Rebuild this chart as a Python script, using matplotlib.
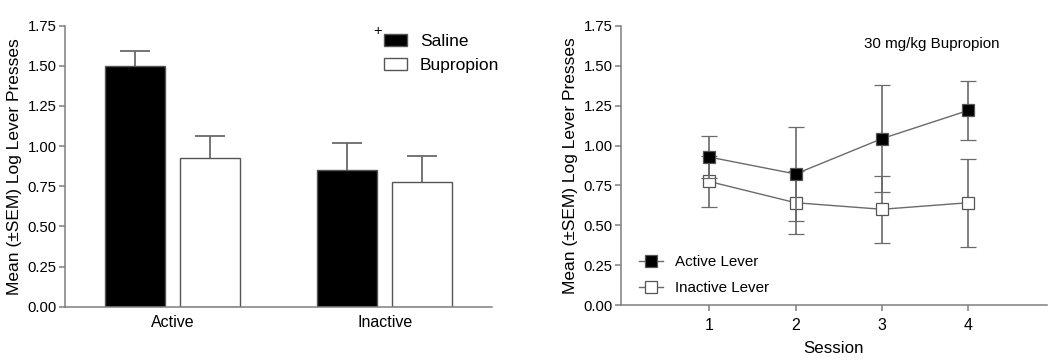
import matplotlib
matplotlib.use("Agg")
import matplotlib.pyplot as plt
import numpy as np
from matplotlib.ticker import FormatStrFormatter
from matplotlib.lines import Line2D

plt.rcParams['font.family'] = ['Liberation Sans', 'DejaVu Sans']

# ---- data: left panel ----
lever_categories = ["Active", "Inactive"]
saline_means = [1.50, 0.85]
saline_sem = [0.09, 0.17]
bupropion_means = [0.925, 0.775]
bupropion_sem = [0.135, 0.162]

# ---- data: right panel ----
sessions = [1, 2, 3, 4]
active_means = [0.928, 0.822, 1.043, 1.220]
active_sem = [0.133, 0.293, 0.334, 0.186]
inactive_means = [0.775, 0.642, 0.601, 0.642]
inactive_sem = [0.160, 0.198, 0.211, 0.275]

y_ticks = [0.00, 0.25, 0.50, 0.75, 1.00, 1.25, 1.50, 1.75]

axis_color = '#7f7f7f'
edge_color = '#555555'
err_color = '#6a6a6a'
ylabel = "Mean (\u00b1SEM) Log Lever Presses"

fig = plt.figure(figsize=(10.5, 3.62), dpi=100)
W, H = 1050, 362

def add_axes_px(x0, x1, ytop, ybot):
    return fig.add_axes([x0 / W, (H - ybot) / H, (x1 - x0) / W, (ybot - ytop) / H])

def style_axes(ax):
    for s in ['top', 'right']:
        ax.spines[s].set_visible(False)
    for s in ['left', 'bottom']:
        ax.spines[s].set_color(axis_color)
        ax.spines[s].set_linewidth(1.1)
    ax.tick_params(colors=axis_color, width=1.1, length=4, labelcolor='black')
    ax.set_ylim(0, 1.75)
    ax.set_yticks(y_ticks)
    ax.yaxis.set_major_formatter(FormatStrFormatter('%.2f'))
    ax.tick_params(axis='y', labelsize=10.7, pad=2)

# ---------------- left panel ----------------
ax1 = add_axes_px(65, 492, 25.7, 306.7)
style_axes(ax1)
x = np.arange(len(lever_categories))
bw = 0.285
off = 0.177
ekw = dict(ecolor=err_color, elinewidth=1.3, capsize=10.5, capthick=1.3)
b1 = ax1.bar(x - off, saline_means, bw, color='black', edgecolor=edge_color, linewidth=1.0,
             yerr=[np.zeros(len(x)), saline_sem], error_kw=ekw, label='Saline', zorder=2)
b2 = ax1.bar(x + off, bupropion_means, bw, color='white', edgecolor=edge_color, linewidth=1.0,
             yerr=[np.zeros(len(x)), bupropion_sem], error_kw=ekw, label='Bupropion', zorder=2)
for bc in (b1, b2):
    caps = bc.errorbar.lines[1]
    if len(caps) > 0:
        caps[0].set_visible(False)  # hide lower cap (upper-only SEM)
ax1.set_xlim(-0.508, 1.506)
ax1.set_xticks(x)
ax1.set_xticklabels(lever_categories)
ax1.tick_params(axis='x', length=0, labelsize=11.5, pad=6)
ax1.set_ylabel(ylabel, fontsize=12.5, labelpad=4)
ax1.legend(loc='upper left', bbox_to_anchor=((384 - 65) / 427, (306.7 - 34) / 281),
           frameon=False, fontsize=12.5, handlelength=1.32, handleheight=0.69,
           handletextpad=0.75, labelspacing=0.52, borderpad=0, borderaxespad=0)
fig.text(378 / W, (H - 31) / H, '+', fontsize=10.5, ha='center', va='center')

# ---------------- right panel ----------------
ax2 = add_axes_px(621, 1047, 25.7, 305.3)
style_axes(ax2)
mk = dict(marker='s', markersize=8.0, markeredgecolor=edge_color, markeredgewidth=0.9)
ax2.errorbar(sessions, inactive_means, yerr=inactive_sem, color=err_color, lw=1.0,
             elinewidth=1.2, capsize=5.5, capthick=1.2, markerfacecolor='white',
             label='Inactive Lever', zorder=3, **mk)
ax2.errorbar(sessions, active_means, yerr=active_sem, color=err_color, lw=1.0,
             elinewidth=1.2, capsize=5.5, capthick=1.2, markerfacecolor='black',
             label='Active Lever', zorder=4, **mk)
ax2.set_xlim(-0.02, 4.91)
ax2.set_xticks(sessions)
ax2.tick_params(axis='x', labelsize=11.5, pad=5)
ax2.set_xlabel('Session', fontsize=12.2, labelpad=6)
ax2.set_ylabel(ylabel, fontsize=12.5, labelpad=4)
ax2.text((931.7 - 621) / 426, (305.3 - 43.7) / 279.6, '30 mg/kg Bupropion', transform=ax2.transAxes,
         fontsize=10.9, ha='center', va='center')
h_act = Line2D([], [], color=err_color, lw=1.0, markerfacecolor='black', **mk)
h_ina = Line2D([], [], color=err_color, lw=1.0, markerfacecolor='white', **mk)
ax2.legend([h_act, h_ina], ['Active Lever', 'Inactive Lever'], loc='upper left',
           bbox_to_anchor=((639 - 621) / 426, (305.3 - 255) / 279.6), frameon=False,
           fontsize=10.9, handlelength=1.6, handletextpad=0.78, labelspacing=0.82,
           borderpad=0, borderaxespad=0)

fig.savefig('out.png', dpi=100)
